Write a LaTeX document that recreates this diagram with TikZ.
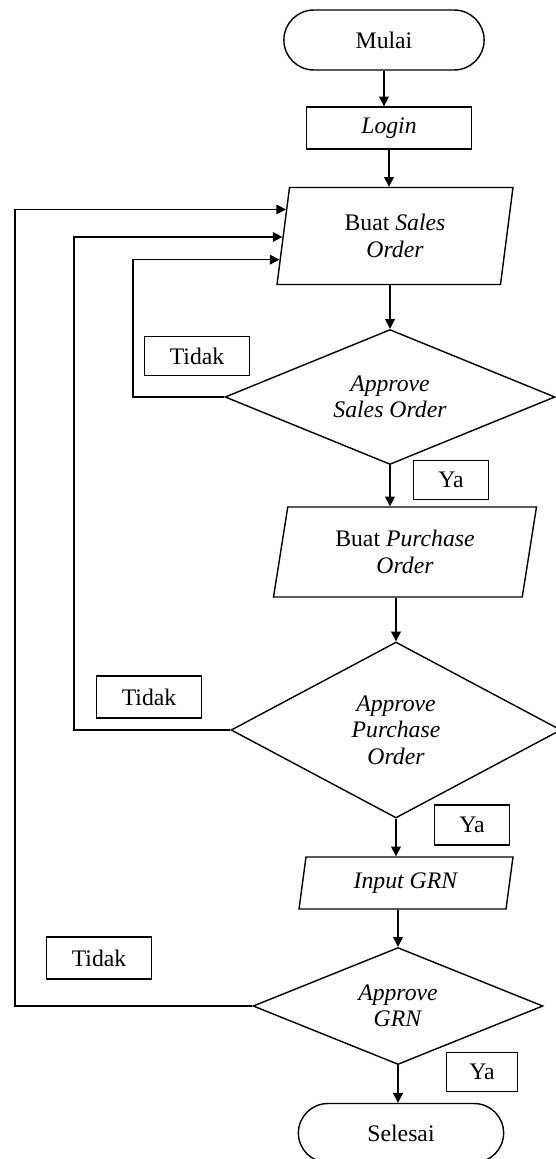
\documentclass[tikz,border=0pt]{standalone}
\usepackage{fontspec}
\setmainfont{Liberation Serif}
\usetikzlibrary{shapes.geometric,shapes.misc,arrows.meta,calc}

\tikzset{
    every node/.style={font=\fontsize{13.5}{15}\selectfont, line width=0.8pt},
    terminal/.style={rounded rectangle, draw, minimum width=4.24cm, minimum height=1.2cm},
    process/.style={rectangle, draw, minimum width=3.3cm, minimum height=0.84cm},
    io/.style={trapezium, draw, trapezium left angle=#1, trapezium right angle=180-#1,
        trapezium stretches body, align=center, inner sep=1pt},
    decision/.style={diamond, draw, align=center, inner sep=1pt, aspect=2},
    tidakbox/.style={rectangle, draw, minimum width=2.1cm, minimum height=0.84cm},
    yabox/.style={rectangle, draw, minimum width=1.5cm, minimum height=0.8cm},
    arr/.style={line width=0.8pt, -{Triangle[length=5.5pt, width=5.5pt]}}
}

\begin{document}
\begin{tikzpicture}[x=0.02cm, y=-0.02cm]

        \useasboundingbox (0,0) rectangle (555,1159);

        \node [terminal] (mulai) at (384,40) {Mulai};
        \node [process] (login) at (389,128) {\textit{Login}};
        \node [io=75, minimum width=4.72cm, minimum height=1.94cm] (bso) at (395,236) {Buat \textit{Sales}\\\textit{Order}};
        \node [decision, minimum width=6.6cm, minimum height=2.7cm] (aso) at (390,397) {\textit{Approve}\\\textit{Sales Order}};
        \node [io=73, minimum width=5.26cm, minimum height=1.8cm] (bpo) at (405,552) {Buat \textit{Purchase}\\\textit{Order}};
        \node [decision, minimum width=6.6cm, minimum height=3.52cm] (apo) at (396,730) {\textit{Approve}\\\textit{Purchase}\\\textit{Order}};
        \node [io=74, minimum width=4.28cm, minimum height=1.04cm] (igrn) at (406,883) {\textit{Input GRN}};
        \node [decision, minimum width=5.8cm, minimum height=2.34cm] (agrn) at (398,1006) {\textit{Approve}\\\textit{GRN}};
        \node [terminal, minimum width=4.34cm, minimum height=1.18cm] (selesai) at (401,1133) {Selesai};

        \node [tidakbox, minimum height=0.78cm] (tidak1) at (197,356) {Tidak};
        \node [yabox, minimum height=0.78cm] (ya1) at (451,480) {Ya};
        \node [tidakbox] (tidak2) at (149,697) {Tidak};
        \node [yabox] (ya2) at (472,825) {Ya};
        \node [tidakbox] (tidak3) at (99,958) {Tidak};
        \node [yabox, minimum width=1.42cm, minimum height=0.78cm] (ya3) at (482,1072) {Ya};

        \coordinate (colA) at (15,0);
        \coordinate (colB) at (74,0);
        \coordinate (colC) at (133,0);
        \coordinate (in1) at ($(bso.top left corner)!0.23!(bso.bottom left corner)$);
        \coordinate (in2) at ($(bso.top left corner)!0.51!(bso.bottom left corner)$);
        \coordinate (in3) at ($(bso.top left corner)!0.74!(bso.bottom left corner)$);

        \draw [arr] (mulai.south) -- (mulai.south |- login.north);
        \draw [arr] (login.south) -- (login.south |- bso.north);
        \draw [arr] (aso.north |- bso.south) -- (aso.north);
        \draw [arr] (aso.south) -- (aso.south |- bpo.north);
        \draw [arr] (apo.north |- bpo.south) -- (apo.north);
        \draw [arr] (apo.south) -- (apo.south |- igrn.north);
        \draw [arr] (agrn.north |- igrn.south) -- (agrn.north);
        \draw [arr] (agrn.south) -- (agrn.south |- selesai.north);

        \draw [arr] (aso.west) -| (colC |- in3) -- (in3);
        \draw [arr] (apo.west) -| (colB |- in2) -- (in2);
        \draw [arr] (agrn.west) -| (colA |- in1) -- (in1);

    \end{tikzpicture}
\end{document}
